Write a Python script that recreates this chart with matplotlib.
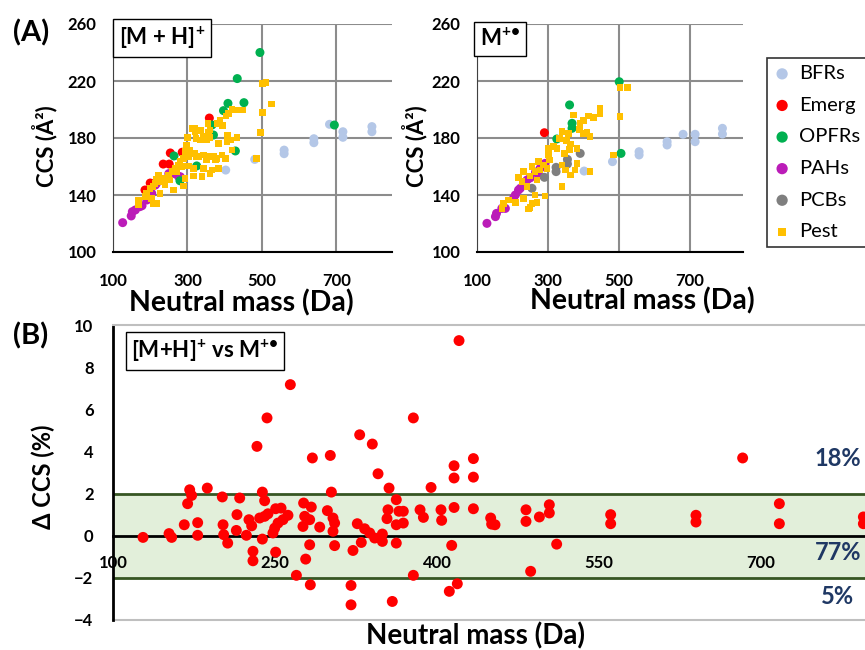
import matplotlib
matplotlib.use("Agg")
import matplotlib.pyplot as plt

plt.rcParams["font.family"] = ["Lato", "DejaVu Sans"]
plt.rcParams["mathtext.fontset"] = "custom"
plt.rcParams["mathtext.rm"] = "Lato"
plt.rcParams["mathtext.bf"] = "Lato:bold"
plt.rcParams["mathtext.default"] = "bf"

# ─── Panel A: [M+H]+ CCS vs neutral mass ────────────────────
BFR_MH_MASS = [403, 481, 560, 560, 640, 640, 682, 718, 718, 796, 796]
BFR_MH_CCS = [157.5, 165, 171.5, 169, 179.5, 176.7, 189.6, 184.4, 180.5, 188, 184.4]
EMERG_MH_MASS = [359, 254, 235, 251, 200, 186, 286]
EMERG_MH_CCS = [194, 169.5, 161.7, 161.7, 148.4, 143.5, 170]
OPFR_MH_MASS = [495, 434, 409, 452, 397, 366, 370, 429, 264, 325, 280, 695]
OPFR_MH_CCS = [240, 221.7, 204.3, 204.8, 199.2, 189.1, 182.1, 170.9, 167.4, 160.4, 150, 189.1]
PAH_MH_MASS = [126, 149, 152, 160, 172, 178, 191, 199, 204, 214, 217, 235, 250, 265, 276, 281]
PAH_MH_CCS = [120.6, 125.3, 128.3, 129.5, 131.8, 132.5, 136.5, 138.8, 141.2, 147, 148.2, 150.5, 155, 155, 153, 152.8]
PEST_MH_MASS = [502, 511, 526, 502, 497, 486, 448, 433, 420, 411, 404, 388, 394, 379,
                355, 361, 352, 357, 319, 321, 336, 300, 323, 334, 343, 361, 384, 408,
                417, 433, 406, 420, 402, 393, 379, 370, 357, 343, 330, 321, 307, 298,
                294, 303, 289, 280, 276, 267, 258, 249, 240, 231, 222, 217, 213, 208,
                199, 190, 186, 168, 168, 208, 217, 204, 226, 240, 253, 262, 289, 294,
                316, 339, 343, 361, 366, 384, 316, 303, 285, 271, 325, 352, 375, 313]
PEST_MH_CCS = [218.4, 218.8, 203.9, 197.8, 183.7, 165.7, 199.6, 199.6, 200, 197.3, 195.4,
               192.6, 188.9, 190.3, 190.3, 185.6, 178.6, 183.7, 186.8, 184.4, 185.1, 180.5,
               179.8, 178.6, 180.9, 180.5, 176.3, 182.1, 178.6, 180.5, 177.4, 171.6, 165.7,
               168.1, 165.7, 166.9, 166.9, 168.1, 166.9, 169.2, 171.6, 175.1, 170.4, 166.9,
               165.7, 163.4, 161.1, 158.7, 156.4, 154, 151.7, 149.4, 154, 151, 148.2, 145.8,
               144.7, 141.2, 138.8, 136.5, 133, 134.2, 134.2, 137.7, 141.2, 147, 150.5, 143.5,
               146.3, 151.7, 153.3, 152.9, 158.7, 155.2, 157.5, 158.7, 158.7, 160.4, 159.9,
               156.4, 166.9, 164.6, 164.6, 186.8]

# ─── Panel A: M+. CCS vs neutral mass ───────────────────────
BFR_M_MASS = [402, 482, 557, 557, 636, 636, 681, 715, 715, 792, 792]
BFR_M_CCS = [156.8, 163.4, 170.4, 168.1, 177.4, 175.1, 182.6, 182.6, 177.4, 186.8, 182.8]
EMERG_M_MASS = [290]
EMERG_M_CCS = [183.7]
OPFR_M_MASS = [361, 368, 368, 325, 506, 501]
OPFR_M_CCS = [203.2, 190.3, 186.8, 179.3, 169.2, 219.5]
PAH_M_MASS = [128, 152, 155, 170, 180, 203, 208, 217, 222, 231, 241, 250, 265, 274, 278, 292]
PAH_M_CCS = [120.1, 124.8, 127.1, 130.6, 130.6, 137.7, 140, 143.5, 144.7, 148.2, 150.5,
             152, 156, 154, 158.7, 162.2]
PCB_M_MASS = [255, 290, 323, 323, 355, 355, 391]
PCB_M_CCS = [144.7, 152.4, 159.4, 156.4, 165, 161.8, 169.2]
PEST_M_MASS = [447, 447, 429, 415, 400, 391, 372, 389, 410, 419, 400, 358, 353, 339, 333,
               363, 361, 382, 346, 325, 316, 302, 302, 305, 288, 274, 278, 297, 339, 349,
               382, 377, 419, 363, 339, 264, 255, 250, 231, 217, 227, 241, 269, 264, 292,
               231, 208, 189, 175, 170, 255, 269, 250, 245, 485, 503, 525, 503]
PEST_M_CCS = [200.8, 197.3, 194.5, 195.4, 192.2, 190.3, 196.1, 186.1, 183.7, 180.9, 183.3,
              183.3, 178.1, 184.4, 179.8, 175.8, 172, 172.7, 169.2, 172.7, 173.9, 172.7,
              168.1, 164.6, 161.1, 163.4, 157.5, 158.7, 161.1, 157.5, 162.2, 157.5, 156.4,
              154, 145.8, 156.4, 159.9, 153.3, 156.4, 152.4, 149.4, 145.8, 150.5, 140,
              139.3, 137.7, 134.6, 136.5, 134.2, 130.6, 134.2, 134.6, 131.3, 130.2, 168,
              215.3, 215.3, 195]

# ─── Panel B: delta CCS between the two ion types ───────────
DELTA_MASS = [127.8, 151.9, 154.3, 166, 171, 172.8, 169.1, 178.4, 178.4, 187.3, 201.2, 201.9,
              202.5, 206.2, 214.8, 214.2, 217.3, 223.5, 225.9, 228.4, 229.6, 229.6, 238.3,
              240.4, 238.3, 233.3, 242.6, 235.8, 240.4, 243.5, 250.6, 255.6, 248.1, 249.7,
              252.8, 257.4, 262, 250.6, 264.2, 269.8, 276.5, 283.6, 277.5, 275.9, 282.1,
              278.4, 282.1, 282.7, 284.6, 291.4, 298.5, 301.2, 302.2, 303.7, 305.2, 303.7,
              305.2, 320.4, 320.4, 322.2, 326.2, 329.9, 328.4, 340.1, 345.4, 355.6, 362.3,
              333, 337.7, 342.3, 349.4, 349.4, 362.3, 358.6, 354.6, 353.7, 362.3, 364.8,
              420.4, 378.1, 433.7, 415.8, 415.8, 433.7, 394.5, 368.8, 368.8, 384.3, 387.4,
              403.7, 404.3, 415.8, 433.7, 449.7, 450.6, 453.7, 482.4, 482.4, 494.8, 504,
              504, 560.8, 560.8, 639.8, 639.8, 683, 717, 717, 794.8, 794.8, 413.6, 510.8,
              378.1, 486.7, 418.8, 411.4]
DELTA_CCS = [-0.08, 0.1, -0.08, 0.52, 2.18, 1.91, 1.52, 0.62, 0.02, 2.26, 1.84, 0.52, 0.05,
             -0.35, 1.0, 0.25, 1.79, 0.02, 0.76, 0.47, -0.74, -1.19, 2.07, 1.66, -0.16, 4.24,
             5.59, 0.84, 0.92, 1.04, 1.28, 1.31, 0.13, 0.36, 0.6, 0.76, 0.97, -0.78, 7.17,
             -1.88, 1.55, 1.36, 0.92, 0.44, 0.76, -1.11, -0.43, -2.33, 3.69, 0.41, 1.19,
             3.81, 2.07, 0.84, 0.6, 0.21, -0.47, -2.36, -3.28, -0.7, 0.57, -0.32, 4.79,
             4.35, 2.94, 2.26, 1.71, 0.33, 0.13, -0.11, 0.08, -0.27, -0.35, -3.12, 1.23,
             0.81, 0.52, 1.16, 9.26, 5.59, 3.66, 3.32, 2.74, 2.78, 2.29, 1.16, 0.6, 1.23,
             0.87, 1.23, 0.73, 1.34, 1.28, 0.84, 0.55, 0.52, 1.23, 0.68, 0.89, 1.47, 1.08,
             1.0, 0.57, 0.97, 0.65, 3.69, 1.52, 0.57, 0.89, 0.57, -0.46, -0.40, -1.88,
             -1.69, -2.28, -2.64]

A_XTICKS = [100, 300, 500, 700]
A_YTICKS = [100, 140, 180, 220, 260]
B_XTICKS = [100, 250, 400, 550, 700]
B_YTICKS = [-4, -2, 0, 2, 4, 6, 8, 10]
SHARE_LABELS = ["18%", "77%", "5%"]

COLORS = {"BFRs": "#B4C7E7", "Emerg": "#FF0000", "OPFRs": "#00B050",
          "PAHs": "#BB1CB8", "PCBs": "#7F7F7F", "Pest": "#FFC000"}

W, H = 865, 650
fig = plt.figure(figsize=(W / 100, H / 100), dpi=100)


def px_axes(left, top, right, bottom):
    return fig.add_axes([left / W, 1 - bottom / H, (right - left) / W, (bottom - top) / H])


def style_a(ax):
    ax.set_xlim(100, 850)
    ax.set_ylim(100, 260)
    ax.set_xticks(A_XTICKS)
    ax.set_yticks(A_YTICKS)
    ax.grid(True, color="#8C8C8C", lw=1.5)
    ax.set_axisbelow(True)
    for s in ["top", "right"]:
        ax.spines[s].set_visible(False)
    ax.spines["left"].set_color("#404040")
    ax.spines["bottom"].set_color("black")
    ax.spines["bottom"].set_linewidth(1.5)
    ax.tick_params(length=0, labelsize=12)
    ax.tick_params(axis="x", pad=15)
    ax.tick_params(axis="y", pad=12)
    for t in ax.get_xticklabels() + ax.get_yticklabels():
        t.set_fontweight("bold")


def draw_a(ax, groups):
    handles = []
    for name, xs, ys in groups:
        marker = "s" if name == "Pest" else "o"
        size = 22 if name == "Pest" else 42
        h = ax.scatter(xs, ys, s=size, marker=marker, color=COLORS[name],
                       edgecolors="none", label=name, zorder=3)
        handles.append(h)
    return handles


ax1 = px_axes(113, 24, 392, 252)
h1 = draw_a(ax1, [("BFRs", BFR_MH_MASS, BFR_MH_CCS),
                  ("PAHs", PAH_MH_MASS, PAH_MH_CCS),
                  ("Emerg", EMERG_MH_MASS, EMERG_MH_CCS),
                  ("OPFRs", OPFR_MH_MASS, OPFR_MH_CCS),
                  ("Pest", PEST_MH_MASS, PEST_MH_CCS)])
style_a(ax1)

ax2 = px_axes(477, 24, 743, 252)
h2 = draw_a(ax2, [("BFRs", BFR_M_MASS, BFR_M_CCS),
                  ("PAHs", PAH_M_MASS, PAH_M_CCS),
                  ("Emerg", EMERG_M_MASS, EMERG_M_CCS),
                  ("OPFRs", OPFR_M_MASS, OPFR_M_CCS),
                  ("PCBs", PCB_M_MASS, PCB_M_CCS),
                  ("Pest", PEST_M_MASS, PEST_M_CCS)])
style_a(ax2)

by_name = {h.get_label(): h for h in h1 + h2}
order = ["BFRs", "Emerg", "OPFRs", "PAHs", "PCBs", "Pest"]
leg = fig.legend([by_name[n] for n in order], order, loc="upper left",
                 bbox_to_anchor=(767 / W, 1 - 58 / H), frameon=True, fancybox=False,
                 edgecolor="black", fontsize=14.5, labelspacing=0.72, handlelength=0.8,
                 handletextpad=0.45, borderpad=0.35, borderaxespad=0, markerscale=1.25)
leg.get_frame().set_linewidth(1.2)

fig.text(31 / W, 1 - 33 / H, "(A)", fontsize=21, fontweight="bold", ha="center", va="center")
fig.text(31 / W, 1 - 336 / H, "(B)", fontsize=21, fontweight="bold", ha="center", va="center")

box = dict(boxstyle="square,pad=0.25", fc="white", ec="black", lw=1)
fig.text(162 / W, 1 - 38 / H, r"[M + H]$^{+}$", fontsize=16, fontweight="bold",
         ha="center", va="center", bbox=box)
fig.text(500 / W, 1 - 39 / H, r"M$^{+•}$", fontsize=16, fontweight="bold",
         ha="center", va="center", bbox=box)

for xc in (45, 415):
    fig.text(xc / W, 1 - 146 / H, "CCS (Å²)", fontsize=16, fontweight="bold",
             rotation=90, ha="center", va="center")
fig.text(241 / W, 1 - 303 / H, "Neutral mass (Da)", fontsize=20.5, fontweight="bold",
         ha="center", va="center")
fig.text(642 / W, 1 - 301 / H, "Neutral mass (Da)", fontsize=20.5, fontweight="bold",
         ha="center", va="center")

# ─── Panel B ─────────────────────────────────────────────────
ax3 = px_axes(113, 325, 113 + 750 * 1.08, 620)
ax3.set_xlim(100, 850)
ax3.set_ylim(-4, 10)
ax3.axhspan(-2, 2, color="#E2EFDA", zorder=0, lw=0)
for yv in (-2, 2):
    ax3.axhline(yv, color="#375623", lw=2, zorder=1)
ax3.axhline(-4, color="#BFBFBF", lw=1.5, zorder=1, clip_on=False)
ax3.scatter(DELTA_MASS, DELTA_CCS, s=62, color="#FF0000", edgecolors="none", zorder=3)
ax3.set_xticks(B_XTICKS)
ax3.set_yticks(B_YTICKS)
ax3.spines["bottom"].set_position(("data", 0))
ax3.spines["bottom"].set_linewidth(2)
ax3.spines["bottom"].set_zorder(2)
ax3.spines["left"].set_linewidth(2)
ax3.spines["top"].set_color("#BFBFBF")
ax3.spines["top"].set_linewidth(1.5)
ax3.spines["right"].set_visible(False)
ax3.tick_params(axis="x", length=0, labelsize=12, pad=14)
ax3.tick_params(axis="y", length=0, labelsize=12, pad=14)
for t in ax3.get_xticklabels() + ax3.get_yticklabels():
    t.set_fontweight("bold")

fig.text(205 / W, 1 - 351 / H, r"[M+H]$^{+}$ vs M$^{+•}$", fontsize=16,
         fontweight="bold", ha="center", va="center", bbox=box)
fig.text(43 / W, 1 - 477 / H, "Δ CCS (%)", fontsize=17, fontweight="bold",
         rotation=90, ha="center", va="center")
fig.text(475 / W, 1 - 636 / H, "Neutral mass (Da)", fontsize=20, fontweight="bold",
         ha="center", va="center")
for lab, yc in zip(SHARE_LABELS, (459, 552, 597)):
    fig.text(838 / W, 1 - yc / H, lab, fontsize=17, fontweight="bold",
             color="#1F3864", ha="center", va="center")

fig.savefig("out.png", dpi=100)
